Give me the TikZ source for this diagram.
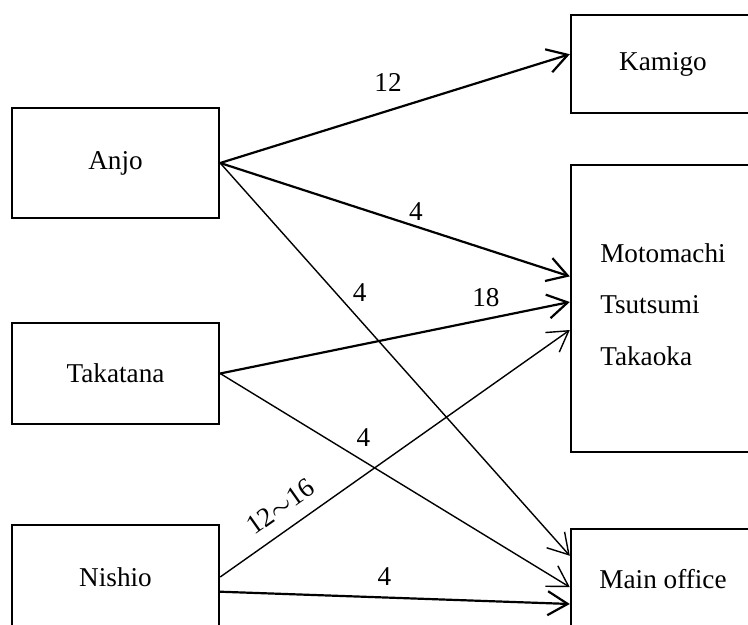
\documentclass[tikz,border=0pt]{standalone}
\usepackage{fontspec}
\setmainfont{Liberation Serif}
\usepackage{tikz}
\usetikzlibrary{arrows.meta}

\begin{document}
\begin{tikzpicture}
		[x=0.5pt,y=-0.5pt,>={Straight Barb[length=10pt,width=12pt]},
		font=\fontsize{13.6}{16.3}\selectfont,
		box/.style={draw,line width=1.2pt,minimum width=#1},
		heavy/.style={line width=1.1pt},light/.style={line width=0.7pt},
		num/.style={inner sep=0pt}]
		\path[use as bounding box,clip] (0,0) rectangle (748,625);
		\node[box=103.5pt,minimum height=55pt] (anjo) at (115.5,163) {Anjo};
		\node[box=103.5pt,minimum height=50.5pt] (takatana) at (115.5,373.5) {Takatana};
		\node[box=103.5pt,minimum height=52pt] (nishio) at (115.5,577) {Nishio};
		\node[box=92pt,minimum height=49pt] (kamigo) at (663,64) {Kamigo};
		\node[box=92pt,minimum height=143.5pt,align=left] (moto) at (663,308.5)
			{Motomachi\\[9.5pt]Tsutsumi\\[9.5pt]Takaoka\\[-12pt]};
		\node[box=92pt,minimum height=50pt] (main) at (663,579) {Main office};
		\path[->]
		(anjo.east) 	edge [heavy] node[num,pos=0.48,yshift=14pt] {12} (kamigo.174)
				edge [heavy] node[num,pos=0.56,yshift=7.5pt] {4} (moto.161)
				edge [light] node[num,pos=0.33,xshift=12pt] {4} (main.166.5)
		(takatana.east) edge [heavy] node[num,pos=0.76,yshift=11pt] {18} (moto.176)
				edge [light] node[num,pos=0.41,yshift=12pt] {4} (main.185)
		(nishio.east) 	edge [light] node[num,pos=0.21,sloped,above=6.5pt] {12$\sim$16} (moto.193.7)
		(nishio.352) 	edge [heavy] node[num,pos=0.47,yshift=10.5pt] {4} (main.195.8)
		;
\end{tikzpicture}
\end{document}
